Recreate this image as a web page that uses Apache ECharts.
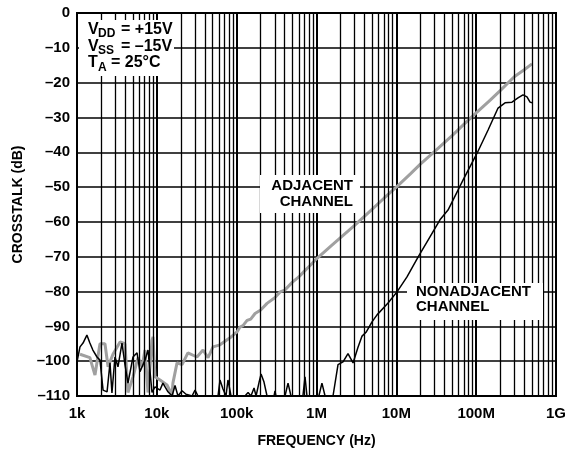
<!DOCTYPE html>
<html>
<head>
<meta charset="utf-8">
<script src="https://cdn.jsdelivr.net/npm/echarts@6/dist/echarts.min.js"></script>
<style>
  html, body { margin: 0; padding: 0; background: #fff; }
  #chart { width: 573px; height: 454px; }
</style>
</head>
<body>
<div id="chart"></div>
<script>
// Crosstalk vs. frequency, adjacent and non-adjacent channels
const xTickLabels = ['1k', '10k', '100k', '1M', '10M', '100M', '1G'];

const adjacentFreq = [
  1090, 1450, 1680, 1940, 2240, 2450, 2820, 3460, 3990, 4350, 5030, 5810, 6520, 7110, 7750,
  8700, 8950, 9480, 10960, 13400, 15500, 15900, 17900, 20700, 24500, 31800, 37900, 43800,
  50600, 61800, 82500, 101000, 110000, 120000, 135000, 150000, 170000, 200000, 240000,
  300000, 350000, 400000, 500000, 600000, 700000, 850000,
  1e6, 1.5e6, 2e6, 3e6, 5e6, 7e6, 1e7, 1.5e7, 2e7, 3e7, 5e7, 7e7, 1e8, 1.5e8, 2e8, 3e8,
  4e8, 5e8
];
const adjacentDb = [
  -98, -99, -104, -95, -95, -101.6, -98, -94.5, -95, -109, -104.5, -99, -101.6, -96.8, -109,
  -94, -93, -104.5, -105.4, -106.8, -109.7, -106.3, -100.5, -101, -97.6, -98.8, -96.8, -99,
  -95.9, -95.3, -93.3, -91.6, -90.2, -89.8, -88.3, -87.9, -86.3, -85.3, -83.4,
  -81.8, -80.1, -79.6, -77.3, -75.8, -74.2, -72.3,
  -70.6, -67, -64.5, -61, -56.3, -53.2, -50, -46.2, -43.4, -39.8, -35.2, -32, -28.7, -25, -22.3, -18.3,
  -16.3, -14.6
];

const nonAdjacentFreq = [
  1000, 1090, 1190, 1330, 1450, 1580, 1780, 1940, 2120, 2380, 2590, 2740, 2990, 3260, 3660,
  3990, 4350, 5030, 5650, 6150, 7110, 7750, 8700, 9480, 10960, 11900, 13800, 15500, 16900,
  18400, 20700, 23200, 27600, 30100, 32800, 58400, 61800, 67400, 73500, 77800, 85000,
  127000, 139000, 151000, 165000, 175000, 191000, 202000, 220000, 240000, 294000, 302000,
  310000, 403000, 440000, 479000, 676000, 718000, 760000, 1.07e6, 1.17e6, 1.28e6, 1.61e6,
  1.86e6, 1.97e6, 2.15e6, 2.48e6, 2.87e6, 3.31e6, 3.72e6, 4.17e6, 4.96e6, 5.73e6, 7.87e6,
  1.02e7, 1.36e7, 1.87e7, 2.64e7, 3.52e7, 4.44e7, 6.84e7, 1.03e8, 1.41e8, 1.88e8, 2.3e8,
  2.81e8, 3.34e8, 3.86e8, 4.33e8, 4.73e8, 5.01e8
];
const nonAdjacentDb = [
  -100.2, -95.9, -94.8, -92.5, -94.8, -96.8, -98.8, -99.7, -108.3, -108.8, -100.5, -109.1, -98.8, -101.6, -94.8,
  -101, -106.3, -98.8, -97.6, -103, -99.7, -96.8, -109, -107.4, -108.3, -106.3, -108.8, -110, -107,
  -110, -108.5, -109.5, -110, -108.3, -110, -110, -105.4, -108, -110, -105.4, -110,
  -110, -109, -110, -107.7, -110, -106, -103.7, -106, -110, -110, -108.5,
  -110, -110, -106.3, -110, -110, -104.5, -110, -110, -106.3, -110, -110,
  -101, -100.8, -100.2, -97.8, -100.5, -96, -92.8, -91.7, -88.7, -86.7, -83.3,
  -80.1, -75.8, -70.1, -64.3, -59.4, -56.6, -48, -40.2, -33.6, -27.3, -25.8,
  -25.6, -24.4, -23.5, -24.1, -25.6, -25.8
];

const zip = (xs, ys) => xs.map((x, i) => [x, ys[i]]);

// Minor vertical grid lines at 2..9 times each decade
const minorGrid = [];
for (let d = 3; d < 9; d++) {
  for (let m = 2; m <= 9; m++) minorGrid.push({ xAxis: m * Math.pow(10, d) });
}

const FONT = '"Liberation Sans", Arial, Helvetica, sans-serif';
const dash = v => (v < 0 ? '\u2013' + Math.abs(v) : String(v));

const chart = echarts.init(document.getElementById('chart'), null, { renderer: 'canvas' });

const boldText = (x, y, text, size, align) => ({
  type: 'text', x, y, z: 110,
  style: {
    text, fill: '#000', font: 'bold ' + size + 'px ' + FONT,
    textAlign: align || 'left', textVerticalAlign: 'middle'
  }
});

chart.setOption({
  animation: false,
  backgroundColor: '#fff',
  grid: {
    left: 77, right: 17, top: 13, bottom: 58,
    show: true, borderColor: '#000', borderWidth: 2, backgroundColor: 'transparent'
  },
  xAxis: {
    type: 'log', logBase: 10, min: 1e3, max: 1e9, splitNumber: 6,
    name: 'FREQUENCY (Hz)', nameLocation: 'middle', nameGap: 38,
    nameTextStyle: { fontFamily: FONT, fontWeight: 'bold', fontSize: 14, color: '#000' },
    axisLine: { show: false },
    axisTick: { show: false },
    minorTick: { show: false },
    axisLabel: {
      margin: 10, fontFamily: FONT, fontWeight: 'bold', fontSize: 15, color: '#000',
      formatter: v => xTickLabels[Math.round(Math.log10(v)) - 3]
    },
    splitLine: { show: true, lineStyle: { color: '#000', width: 2 } }
  },
  yAxis: {
    type: 'value', min: -110, max: 0, interval: 10,
    name: 'CROSSTALK (dB)', nameLocation: 'middle', nameGap: 52,
    nameTextStyle: { fontFamily: FONT, fontWeight: 'bold', fontSize: 14, color: '#000' },
    axisLine: { show: false },
    axisTick: { show: false },
    axisLabel: {
      margin: 7, fontFamily: FONT, fontWeight: 'bold', fontSize: 15, color: '#000',
      formatter: dash
    },
    splitLine: { show: true, lineStyle: { color: '#000', width: 1.5 } }
  },
  series: [
    {
      type: 'line', data: [], z: 1, silent: true,
      markLine: {
        silent: true, symbol: ['none', 'none'], animation: false,
        label: { show: false },
        lineStyle: { color: '#000', width: 1.3, type: 'solid' },
        emphasis: { disabled: true },
        data: minorGrid
      }
    },
    {
      name: 'ADJACENT CHANNEL', type: 'line', z: 4,
      data: zip(adjacentFreq, adjacentDb),
      showSymbol: false, smooth: false,
      lineStyle: { color: '#a0a0a0', width: 3 }
    },
    {
      name: 'NONADJACENT CHANNEL', type: 'line', z: 5,
      data: zip(nonAdjacentFreq, nonAdjacentDb),
      showSymbol: false, smooth: false,
      lineStyle: { color: '#000', width: 1.5 }
    }
  ],
  graphic: [
    // supply / temperature conditions box
    { type: 'rect', z: 100, shape: { x: 79, y: 20, width: 95, height: 56 }, style: { fill: '#fff' } },
    boldText(88, 30, 'V', 16), boldText(98, 33.5, 'DD', 12), boldText(121, 30, '= +15V', 16),
    boldText(88, 46.5, 'V', 16), boldText(98, 50.5, 'SS', 12), boldText(121, 46.5, '= \u201315V', 16),
    boldText(88, 63, 'T', 16), boldText(98, 68, 'A', 12), boldText(111, 63, '= 25\u00b0C', 16),
    // curve labels
    { type: 'rect', z: 100, shape: { x: 260, y: 175, width: 100, height: 38 }, style: { fill: '#fff' } },
    boldText(353, 186, 'ADJACENT', 15, 'right'),
    boldText(353, 202, 'CHANNEL', 15, 'right'),
    { type: 'rect', z: 100, shape: { x: 407, y: 283, width: 136, height: 37 }, style: { fill: '#fff' } },
    boldText(416, 292, 'NONADJACENT', 15),
    boldText(416, 307, 'CHANNEL', 15)
  ]
});
</script>
</body>
</html>
